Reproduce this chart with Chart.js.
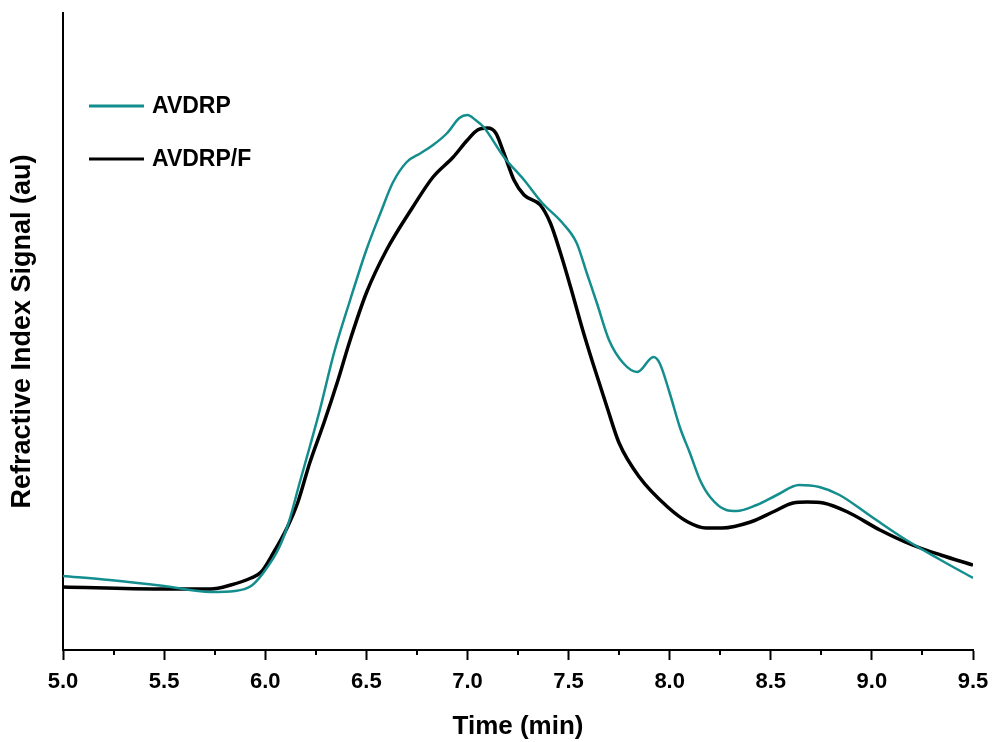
<!DOCTYPE html>
<html>
<head>
<meta charset="utf-8">
<script src="https://cdn.jsdelivr.net/npm/chart.js@4/dist/chart.umd.min.js"></script>
<style>
  html, body { margin: 0; padding: 0; background: #fff; }
  #wrap { width: 995px; height: 742px; }
</style>
</head>
<body>
<div id="wrap"><canvas id="chart" width="995" height="742"></canvas></div>
<script>
// Time (min) and signal (arbitrary units)
const avdrpTime = [5.00, 5.23, 5.50, 5.73, 5.85, 5.93, 5.99, 6.07, 6.12, 6.17, 6.22, 6.27, 6.34, 6.42, 6.50, 6.57, 6.63, 6.70, 6.77, 6.83, 6.90, 6.96, 7.00, 7.04, 7.08, 7.18, 7.28, 7.37, 7.47, 7.54, 7.59, 7.64, 7.70, 7.77, 7.84, 7.92, 7.95, 8.00, 8.05, 8.10, 8.15, 8.20, 8.28, 8.33, 8.43, 8.53, 8.64, 8.74, 8.84, 9.00, 9.17, 9.34, 9.50];
const avdrpSignal = [74, 70, 64, 58, 59, 64, 77, 103, 130, 167, 203, 240, 297, 350, 400, 437, 467, 488, 497, 505, 517, 532, 535, 530, 523, 493, 470, 447, 427, 407, 377, 347, 310, 287, 278, 293, 287, 257, 223, 197, 170, 153, 140, 139, 145, 155, 165, 163, 155, 133, 110, 90, 72];

const avdrpfTime = [5.00, 5.48, 5.73, 5.83, 5.93, 5.98, 6.04, 6.11, 6.16, 6.22, 6.29, 6.36, 6.42, 6.50, 6.60, 6.73, 6.83, 6.93, 7.00, 7.05, 7.10, 7.14, 7.18, 7.23, 7.28, 7.36, 7.41, 7.46, 7.51, 7.57, 7.62, 7.69, 7.75, 7.85, 7.99, 8.09, 8.18, 8.26, 8.40, 8.51, 8.61, 8.68, 8.76, 8.88, 9.04, 9.20, 9.34, 9.50];
const avdrpfSignal = [63, 61, 61, 65, 72, 78, 97, 123, 147, 187, 227, 270, 310, 357, 400, 443, 473, 493, 510, 520, 522, 517, 497, 470, 455, 445, 427, 397, 363, 320, 287, 243, 207, 173, 143, 128, 122, 122, 128, 138, 147, 148, 147, 138, 120, 105, 95, 85];

const seriesLabels = ['AVDRP', 'AVDRP/F'];
const seriesColors = ['#138d8d', '#000000'];
const minorTicks = [5.25, 5.75, 6.25, 6.75, 7.25, 7.75, 8.25, 8.75, 9.25];

const toPoints = (xs, ys) => xs.map((x, i) => ({ x: x, y: ys[i] }));

// minor ticks under the x axis
const minorTickPlugin = {
  id: 'minorTicks',
  afterDraw(chart) {
    const ctx = chart.ctx;
    const xs = chart.scales.x;
    ctx.save();
    ctx.strokeStyle = '#000';
    ctx.lineWidth = 2;
    minorTicks.forEach(v => {
      const px = Math.round(xs.getPixelForValue(v));
      ctx.beginPath();
      ctx.moveTo(px, chart.chartArea.bottom);
      ctx.lineTo(px, chart.chartArea.bottom + 5);
      ctx.stroke();
    });
    ctx.restore();
  }
};

// legend inside the plot, top left
const innerLegendPlugin = {
  id: 'innerLegend',
  afterDraw(chart) {
    const ctx = chart.ctx;
    ctx.save();
    ctx.font = 'bold 23px "Liberation Sans", Arial, sans-serif';
    ctx.textBaseline = 'middle';
    chart.data.datasets.forEach((ds, i) => {
      const y = 106 + i * 53;
      ctx.strokeStyle = ds.borderColor;
      ctx.lineWidth = 3;
      ctx.beginPath();
      ctx.moveTo(89, y);
      ctx.lineTo(144, y);
      ctx.stroke();
      ctx.fillStyle = '#000';
      ctx.fillText(ds.label, 152, y + 1);
    });
    ctx.restore();
  }
};

new Chart(document.getElementById('chart').getContext('2d'), {
  type: 'line',
  data: {
    datasets: [
      {
        label: seriesLabels[0],
        data: toPoints(avdrpTime, avdrpSignal),
        borderColor: seriesColors[0],
        borderWidth: 2.5,
        pointRadius: 0,
        cubicInterpolationMode: 'monotone',
        fill: false,
      },
      {
        label: seriesLabels[1],
        data: toPoints(avdrpfTime, avdrpfSignal),
        borderColor: seriesColors[1],
        borderWidth: 3.5,
        pointRadius: 0,
        cubicInterpolationMode: 'monotone',
        fill: false,
      },
    ],
  },
  options: {
    responsive: false,
    animation: false,
    layout: { padding: { left: 0, right: 22, top: 13, bottom: 0 } },
    plugins: {
      legend: { display: false },
      tooltip: { enabled: false },
    },
    scales: {
      x: {
        type: 'linear',
        min: 5,
        max: 9.5,
        afterFit: s => { s.height = 92; s.paddingLeft = 0; s.paddingRight = 0; },
        ticks: {
          stepSize: 0.5,
          color: '#000',
          padding: 9,
          maxRotation: 0,
          autoSkip: false,
          font: { family: '"Liberation Sans", Arial, sans-serif', size: 22, weight: 'bold' },
          callback: v => Number(v).toFixed(1),
        },
        grid: { drawOnChartArea: false, tickLength: 10, tickColor: '#000', tickWidth: 2 },
        border: { display: true, color: '#000', width: 2 },
        title: {
          display: true,
          text: 'Time (min)',
          color: '#000',
          padding: { top: 0, bottom: 0 },
          font: { family: '"Liberation Sans", Arial, sans-serif', size: 26, weight: 'bold' },
        },
      },
      y: {
        min: 0,
        max: 637,
        afterFit: s => { s.width = 63; },
        ticks: { display: false },
        grid: { drawOnChartArea: false, drawTicks: false },
        border: { display: true, color: '#000', width: 2 },
        title: {
          display: true,
          text: 'Refractive Index Signal (au)',
          color: '#000',
          padding: { top: 6, bottom: 0 },
          font: { family: '"Liberation Sans", Arial, sans-serif', size: 27, weight: 'bold' },
        },
      },
    },
  },
  plugins: [minorTickPlugin, innerLegendPlugin],
});
</script>
</body>
</html>
